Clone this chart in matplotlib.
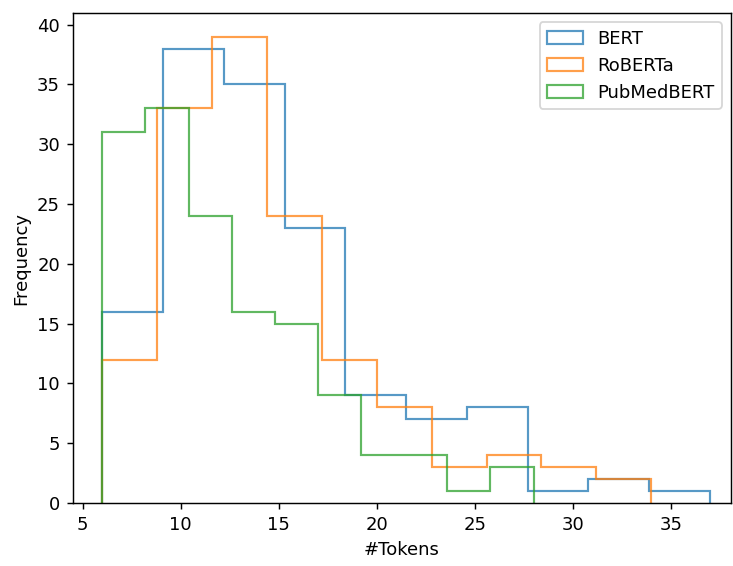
import matplotlib.pyplot as plt
import numpy as np

# token-length histograms (10 bins each)
models = ["BERT", "RoBERTa", "PubMedBERT"]
token_ranges = [(6, 37), (6, 34), (6, 28)]
bert_counts = [16, 38, 35, 23, 9, 7, 8, 1, 2, 1]
roberta_counts = [12, 33, 39, 24, 12, 8, 3, 4, 3, 2]
pubmedbert_counts = [31, 33, 24, 16, 15, 9, 4, 4, 1, 3]
n_bins = 10


def main() -> None:
    dpi = 130
    fig = plt.figure(figsize=(733 / dpi, 566 / dpi), dpi=dpi)
    ax = fig.add_axes([0.0992, 0.1113, 0.8978, 0.8652])

    all_counts = [bert_counts, roberta_counts, pubmedbert_counts]
    for name, (lo, hi), counts in zip(models, token_ranges, all_counts):
        edges = np.linspace(lo, hi, n_bins + 1)
        centers = (edges[:-1] + edges[1:]) / 2
        ax.hist(centers, bins=edges, weights=counts, histtype="step",
                alpha=0.75, linewidth=1.2, label=name)

    ax.set_xlim(4.49, 38.06)
    ax.set_xlabel("#Tokens")
    ax.set_ylabel("Frequency")
    ax.legend(loc="upper right")

    fig.savefig("out.png", dpi=dpi)
    plt.close(fig)


if __name__ == "__main__":
    main()
